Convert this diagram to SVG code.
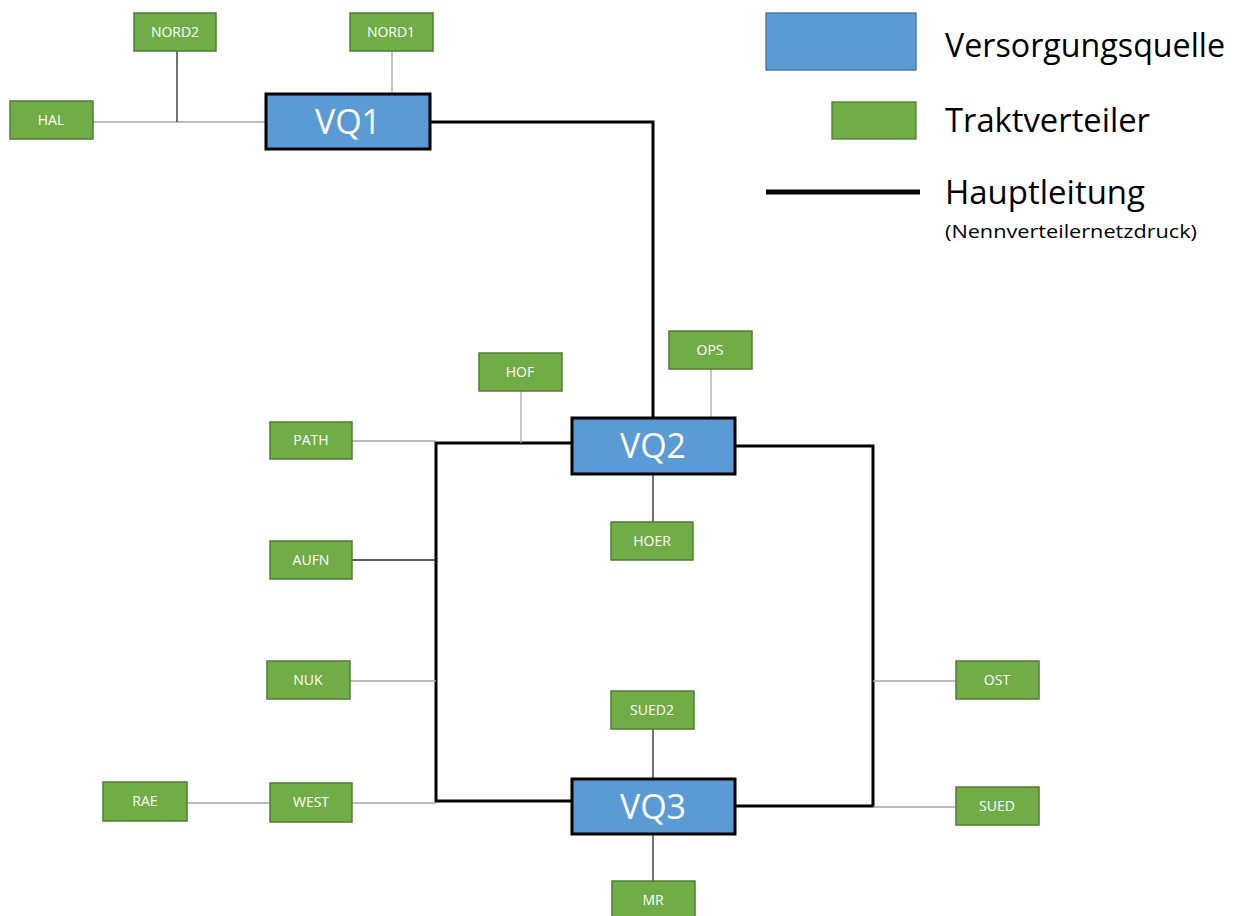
<svg xmlns="http://www.w3.org/2000/svg" width="1237" height="916" viewBox="0 0 1237 916">
  <style>
    .vq rect { fill: #5B9BD5; stroke: #000; stroke-width: 3; }
    .vq text { fill: #fff; font-family: "Open Sans", "Liberation Sans", sans-serif; font-size: 34px; text-anchor: middle; }
    .tv rect { fill: #70AD47; stroke: #507E32; stroke-width: 1.5; }
    .tv text { fill: #fff; font-family: "Open Sans", "Liberation Sans", sans-serif; font-size: 14px; text-anchor: middle; }
    .main { fill: none; stroke: #000; stroke-width: 3; }
    .branch { stroke: #a6a6a6; stroke-width: 1.3; fill: none; }
    .branch-dark { stroke: #262626; stroke-width: 1.3; fill: none; }
    .legend text { fill: #000; font-family: "Open Sans", "Liberation Sans", sans-serif; }
  </style>

  <rect width="1237" height="916" fill="#fff"/>

  <!-- pipes -->
  <g id="connectors">
    <!-- main line -->
    <polyline class="main" points="430,122 653,122 653,418"/>
    <polyline class="main" points="572,443 436,443 436,801 572,801"/>
    <polyline class="main" points="735,446 873,446 873,806 735,806"/>
    <!-- branch lines -->
    <line class="branch" x1="93" y1="122" x2="266" y2="122"/>
    <line class="branch-dark" x1="177" y1="51" x2="177" y2="122"/>
    <line class="branch" x1="392" y1="51" x2="392" y2="94"/>
    <line class="branch" x1="352" y1="441" x2="436" y2="441"/>
    <line class="branch" x1="521" y1="391" x2="521" y2="443"/>
    <line class="branch" x1="711" y1="369" x2="711" y2="418"/>
    <line class="branch-dark" x1="653" y1="474" x2="653" y2="522"/>
    <line class="branch-dark" x1="352" y1="560" x2="436" y2="560"/>
    <line class="branch" x1="350" y1="681" x2="436" y2="681"/>
    <line class="branch" x1="352" y1="803" x2="436" y2="803"/>
    <line class="branch" x1="187" y1="803" x2="270" y2="803"/>
    <line class="branch" x1="873" y1="681" x2="956" y2="681"/>
    <line class="branch" x1="873" y1="807" x2="956" y2="807"/>
    <line class="branch-dark" x1="653" y1="729" x2="653" y2="779"/>
    <line class="branch-dark" x1="653" y1="834" x2="653" y2="881"/>
  </g>

  <!-- supply sources -->
  <g id="VQ1" class="vq"><rect x="266" y="94" width="164" height="55"/><text x="348" y="134">VQ1</text></g>
  <g id="VQ2" class="vq"><rect x="572" y="418" width="163" height="56"/><text x="653" y="458">VQ2</text></g>
  <g id="VQ3" class="vq"><rect x="572" y="779" width="163" height="55"/><text x="653" y="819">VQ3</text></g>

  <!-- tract distributors -->
  <g id="NORD2" class="tv"><rect x="134" y="13" width="82" height="38"/><text x="175" y="37">NORD2</text></g>
  <g id="NORD1" class="tv"><rect x="350" y="13" width="83" height="38"/><text x="391" y="37">NORD1</text></g>
  <g id="HAL" class="tv"><rect x="10" y="101" width="83" height="38"/><text x="51" y="125">HAL</text></g>
  <g id="HOF" class="tv"><rect x="479" y="353" width="83" height="38"/><text x="520" y="377">HOF</text></g>
  <g id="OPS" class="tv"><rect x="669" y="331" width="83" height="38"/><text x="710" y="355">OPS</text></g>
  <g id="PATH" class="tv"><rect x="270" y="422" width="82" height="37"/><text x="311" y="445">PATH</text></g>
  <g id="HOER" class="tv"><rect x="611" y="522" width="82" height="38"/><text x="652" y="546">HOER</text></g>
  <g id="AUFN" class="tv"><rect x="270" y="541" width="82" height="38"/><text x="311" y="565">AUFN</text></g>
  <g id="NUK" class="tv"><rect x="267" y="661" width="83" height="38"/><text x="308" y="685">NUK</text></g>
  <g id="OST" class="tv"><rect x="956" y="661" width="83" height="38"/><text x="997" y="685">OST</text></g>
  <g id="SUED2" class="tv"><rect x="611" y="691" width="83" height="38"/><text x="652" y="715">SUED2</text></g>
  <g id="RAE" class="tv"><rect x="103" y="782" width="84" height="39"/><text x="145" y="806">RAE</text></g>
  <g id="WEST" class="tv"><rect x="270" y="783" width="82" height="39"/><text x="311" y="807">WEST</text></g>
  <g id="SUED" class="tv"><rect x="956" y="787" width="83" height="38"/><text x="997" y="811">SUED</text></g>
  <g id="MR" class="tv"><rect x="612" y="881" width="83" height="38"/><text x="653" y="905">MR</text></g>

  <!-- legend -->
  <g id="legend" class="legend">
    <rect x="766" y="13" width="150" height="57" fill="#5B9BD5" stroke="#41719C" stroke-width="1.3"/>
    <text x="945" y="57" font-size="32" textLength="280" lengthAdjust="spacingAndGlyphs">Versorgungsquelle</text>
    <rect x="832" y="102" width="84" height="37" fill="#70AD47" stroke="#507E32" stroke-width="1.3"/>
    <text x="945" y="132" font-size="33" textLength="205" lengthAdjust="spacingAndGlyphs">Traktverteiler</text>
    <line x1="766" y1="192" x2="920" y2="192" stroke="#000" stroke-width="5"/>
    <text x="945" y="204" font-size="33" textLength="200" lengthAdjust="spacingAndGlyphs">Hauptleitung</text>
    <text x="945" y="238" font-size="19" textLength="252" lengthAdjust="spacingAndGlyphs">(Nennverteilernetzdruck)</text>
  </g>
</svg>
